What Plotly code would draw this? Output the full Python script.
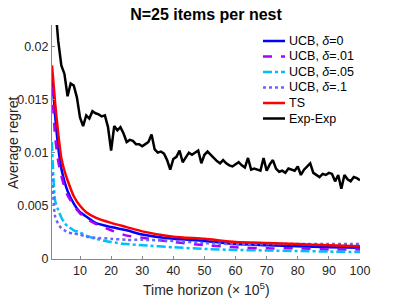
import plotly.graph_objects as go

# Smooth curves sampled at these horizons (x 10^5)
x_s = [1, 2, 3, 4, 5, 6, 8, 10, 12, 15, 20, 25, 30, 40, 50, 60, 70, 80, 90, 100]
ucb0 = [0.0172, 0.0135, 0.0105, 0.0085, 0.0073, 0.0064, 0.0052, 0.0044, 0.0040, 0.0034,
        0.0030, 0.0027, 0.0023, 0.0019, 0.0017, 0.0014, 0.0013, 0.0012, 0.0011, 0.00105]
ucb01 = [0.0162, 0.0115, 0.0092, 0.0078, 0.0068, 0.0060, 0.0050, 0.0043, 0.0038, 0.0033,
         0.0027, 0.0022, 0.0020, 0.0016, 0.0013, 0.0011, 0.0010, 0.0010, 0.0009, 0.0009]
ucb05 = [0.0110, 0.0055, 0.0046, 0.0039, 0.0034, 0.0031, 0.0027, 0.0025, 0.0022, 0.0019,
         0.0016, 0.0014, 0.0013, 0.0011, 0.00095, 0.00085, 0.0008, 0.00075, 0.0007, 0.00065]
ucb1 = [0.0081, 0.0040, 0.0033, 0.0029, 0.0027, 0.0025, 0.0024, 0.0023, 0.0021, 0.0020,
        0.0019, 0.0018, 0.0018, 0.0017, 0.0015, 0.0014, 0.0014, 0.0014, 0.0014, 0.0014]
ts = [0.0182, 0.0147, 0.0118, 0.0095, 0.0083, 0.0074, 0.0059, 0.0050, 0.0044, 0.0039,
      0.0034, 0.0030, 0.0026, 0.0021, 0.0019, 0.0016, 0.0015, 0.0014, 0.0013, 0.0012]

x_e = list(range(1, 101))
expexp = [0.0300, 0.0240, 0.0205, 0.0182, 0.0174, 0.0153, 0.0165, 0.0163, 0.0152, 0.0133,
          0.0125, 0.0135, 0.0132, 0.0139, 0.0137, 0.0136, 0.0134, 0.0135, 0.0124, 0.0102,
          0.0125, 0.0121, 0.0124, 0.0118, 0.0110, 0.0112, 0.0111, 0.0108, 0.0108, 0.0106,
          0.0108, 0.0110, 0.0117, 0.0103, 0.0100, 0.0101, 0.0099, 0.0093, 0.0084, 0.0094,
          0.0096, 0.0102, 0.0091, 0.0095, 0.0100, 0.0098, 0.0100, 0.0102, 0.0090, 0.0098,
          0.0101, 0.0098, 0.0094, 0.0092, 0.0090, 0.0093, 0.0090, 0.0088, 0.0087, 0.0089,
          0.0091, 0.0088, 0.0086, 0.0095, 0.0084, 0.0085, 0.0084, 0.0083, 0.0095, 0.0083,
          0.0089, 0.0093, 0.0085, 0.0082, 0.0083, 0.0081, 0.0085, 0.0084, 0.0083, 0.0087,
          0.0079, 0.0084, 0.0087, 0.0090, 0.0081, 0.0079, 0.0077, 0.0080, 0.0079, 0.0081,
          0.0080, 0.0073, 0.0079, 0.0066, 0.0079, 0.0075, 0.0073, 0.0077, 0.0076, 0.0074]

x_ticks = [10, 20, 30, 40, 50, 60, 70, 80, 90, 100]
y_ticks = [0, 0.005, 0.01, 0.015, 0.02]
y_tick_labels = ["0", "0.005", "0.01", "0.015", "0.02"]

names = ["UCB, <i>δ</i>=0", "UCB, <i>δ</i>=.01", "UCB, <i>δ</i>=.05", "UCB, <i>δ</i>=.1", "TS", "Exp-Exp"]
colors = ["#0000FF", "#AA00FF", "#00BFFF", "#6666FF", "#FF0000", "#000000"]
dashes = ["solid", "dash", "dashdot", "dot", "solid", "solid"]

OFF = 8  # page body margin
W, H = 399 - OFF, 299 - OFF
L, R, T, B = 52 - OFF, 39, 25 - OFF, 40

fig = go.Figure()
for name, ys, col, dash in zip(names[:5], [ucb0, ucb01, ucb05, ucb1, ts], colors, dashes):
    fig.add_trace(go.Scatter(x=x_s, y=ys, mode="lines", name=name, showlegend=False,
                             line=dict(color=col, width=2.5, dash=dash, shape="spline", smoothing=0.6)))
fig.add_trace(go.Scatter(x=x_e, y=expexp, mode="lines", name=names[5], showlegend=False,
                         line=dict(color=colors[5], width=2.5)))

pw, ph = W - L - R, H - T - B
def px_x(px):  # page pixel -> paper fraction
    return (px - OFF - L) / pw
def px_y(py):
    return 1 - (py - OFF - T) / ph

shapes = []
annotations = []
row0, rowgap = 41, 15.5
for i, (name, col, dash) in enumerate(zip(names, colors, dashes)):
    yy = px_y(row0 + i * rowgap)
    shapes.append(dict(type="line", xref="paper", yref="paper",
                       x0=px_x(263), x1=px_x(285), y0=yy, y1=yy,
                       line=dict(color=col, width=2.5, dash=dash)))
    annotations.append(dict(xref="paper", yref="paper", x=px_x(287), y=yy,
                            xanchor="left", yanchor="middle", text=name, showarrow=False,
                            font=dict(size=12.5, color="#000000")))

annotations.append(dict(xref="paper", yref="paper", x=px_x(206), y=px_y(289),
                        xanchor="center", yanchor="middle", showarrow=False,
                        text="Time horizon (× 10<sup>5</sup>)",
                        font=dict(size=14, color="#262626")))
annotations.append(dict(xref="paper", yref="paper", x=px_x(13), y=px_y(143),
                        xanchor="center", yanchor="middle", showarrow=False, textangle=-90,
                        text="Average regret", font=dict(size=14, color="#262626")))

fig.update_layout(
    width=W, height=H,
    margin=dict(l=L, r=R, t=T, b=B),
    plot_bgcolor="white", paper_bgcolor="white",
    font=dict(family="Liberation Sans, Arial, sans-serif", size=12, color="#262626"),
    title=dict(text="<b>N=25 items per nest</b>", x=(206 - OFF) / W, xanchor="center",
               y=1 - (14 - OFF) / H, yanchor="middle", font=dict(size=16, color="#000000")),
    showlegend=False,
    shapes=shapes,
    annotations=annotations,
    xaxis=dict(range=[1, 100], tickvals=x_ticks, ticks="inside", ticklen=3, automargin=False,
               showline=True, linecolor="#888888", linewidth=1, showgrid=False, zeroline=False,
               tickcolor="#888888", tickfont=dict(size=12.5, color="#262626")),
    yaxis=dict(range=[0, 0.022], tickvals=y_ticks, ticktext=y_tick_labels, ticks="inside",
               ticklen=3, automargin=False, showline=True, linecolor="#888888", linewidth=1,
               showgrid=False, zeroline=False, tickcolor="#888888",
               tickfont=dict(size=12.5, color="#262626")),
)
fig.write_html("out.html")
